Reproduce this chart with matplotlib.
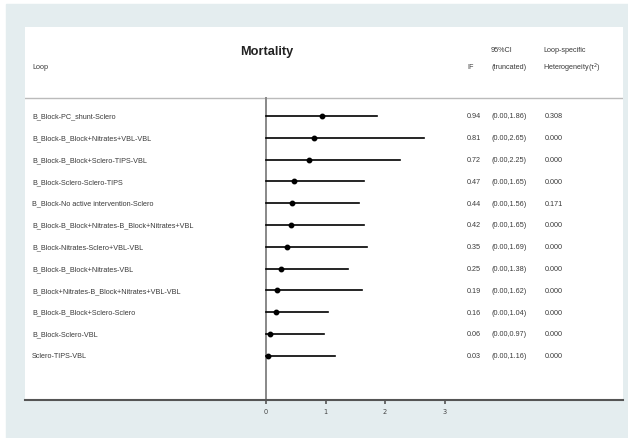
import matplotlib.pyplot as plt
from matplotlib.patches import Rectangle

# Loop-specific inconsistency factors (mortality)
loops = [
    "B_Block-PC_shunt-Sclero",
    "B_Block-B_Block+Nitrates+VBL-VBL",
    "B_Block-B_Block+Sclero-TIPS-VBL",
    "B_Block-Sclero-Sclero-TIPS",
    "B_Block-No active intervention-Sclero",
    "B_Block-B_Block+Nitrates-B_Block+Nitrates+VBL",
    "B_Block-Nitrates-Sclero+VBL-VBL",
    "B_Block-B_Block+Nitrates-VBL",
    "B_Block+Nitrates-B_Block+Nitrates+VBL-VBL",
    "B_Block-B_Block+Sclero-Sclero",
    "B_Block-Sclero-VBL",
    "Sclero-TIPS-VBL",
]
if_vals = [0.94, 0.81, 0.72, 0.47, 0.44, 0.42, 0.35, 0.25, 0.19, 0.16, 0.06, 0.03]
ci_low = [0.00] * 12
ci_high = [1.86, 2.65, 2.25, 1.65, 1.56, 1.65, 1.69, 1.38, 1.62, 1.04, 0.97, 1.16]
tau2 = [0.308, 0.000, 0.000, 0.000, 0.171, 0.000, 0.000, 0.000, 0.000, 0.000, 0.000, 0.000]
xticks = [0, 1, 2, 3]

W, H = 628, 439
fig = plt.figure(figsize=(W / 100, H / 100), dpi=100)
fig.patch.set_facecolor("white")
fig.patches.append(Rectangle((6 / W, 0), 1 - 6 / W, 1 - 5 / H,
                             transform=fig.transFigure, color="#e4edef", zorder=-10))

# white panel
left, right, top, bottom = 25, 623, 28, 401
ax = fig.add_axes([left / W, 1 - bottom / H, (right - left) / W, (bottom - top) / H])
ax.set_facecolor("white")

x0, scale = 266, 59.5
ax.set_xlim((left - x0) / scale, (right - x0) / scale)
row0, step = 117, 21.8
ax.set_ylim((bottom - row0) / step, (top - row0) / step)

for s in ["top", "left", "right"]:
    ax.spines[s].set_visible(False)
ax.spines["bottom"].set_color("#555555")
ax.spines["bottom"].set_linewidth(1.5)
ax.set_yticks([])
ax.set_xticks(xticks)
ax.set_xticklabels([str(t) for t in xticks])
ax.tick_params(axis="x", length=3, width=1.2, color="#555555", labelsize=4.8,
               labelcolor="#444444", pad=3)

sep = (99 - row0) / step
ax.axhline(sep, color="#bbbbbb", lw=1)
ax.plot([0, 0], [sep, ax.get_ylim()[0]], color="#888888", lw=1.4, zorder=2)

rows = list(range(len(loops)))
for i in rows:
    ax.plot([ci_low[i], ci_high[i]], [i, i], color="black", lw=1.2, zorder=3)
ax.plot(if_vals, rows, "o", color="black", ms=3.2, zorder=4)

tr = ax.get_yaxis_transform()
fx = lambda px: (px - left) / (right - left)
fnt = dict(family="Liberation Sans", fontsize=5.2, color="#3a3a3a", va="center")
for i in rows:
    ax.text(fx(32), i, loops[i], transform=tr, **fnt)
    ax.text(fx(467), i, f"{if_vals[i]:.2f}", transform=tr, **fnt)
    ax.text(fx(491), i, f"({ci_low[i]:.2f},{ci_high[i]:.2f})", transform=tr, **fnt)
    ax.text(fx(545), i, f"{tau2[i]:.3f}", transform=tr, **fnt)

y_top = (51 - row0) / step
y_bot = (68 - row0) / step
ax.text(fx(267), (52 - row0) / step, "Mortality", transform=tr, ha="center", va="center",
        family="Liberation Sans", fontsize=9.2, fontweight="bold", color="#222222")
ax.text(fx(32), y_bot, "Loop", transform=tr, **fnt)
ax.text(fx(467), y_bot, "IF", transform=tr, **fnt)
ax.text(fx(491), y_top, "95%CI", transform=tr, **fnt)
ax.text(fx(491), y_bot, "(truncated)", transform=tr, **fnt)
ax.text(fx(543), y_top, "Loop-specific", transform=tr, **fnt)
ax.text(fx(543), y_bot, "Heterogeneity(τ$^2$)", transform=tr, **fnt)

fig.savefig("out.png", dpi=100, facecolor=fig.get_facecolor())
